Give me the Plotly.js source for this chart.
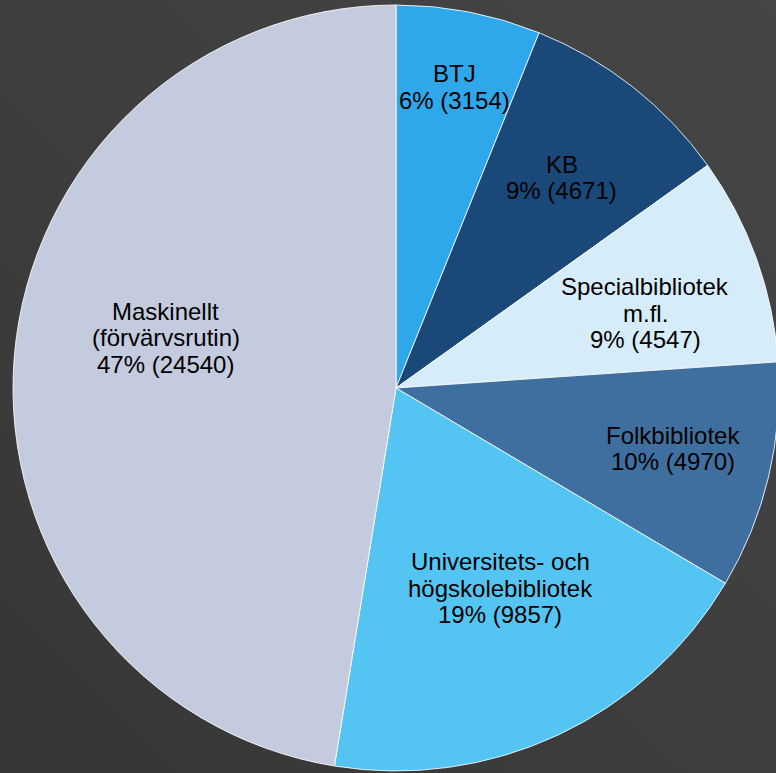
<!DOCTYPE html>
<html>
<head>
<meta charset="utf-8">
<script src="https://cdn.plot.ly/plotly-3.0.1.min.js"></script>
<style>
html,body{margin:0;padding:0;overflow:hidden;}
body{background:linear-gradient(to bottom left,#464646 0%,#3e3e3e 50%,#363636 100%);width:776px;height:773px;}
#chart{width:790px;height:773px;}
</style>
</head>
<body>
<div id="chart"></div>
<script>
const categories = ["BTJ", "KB", "Specialbibliotek m.fl.", "Folkbibliotek", "Universitets- och högskolebibliotek", "Maskinellt (förvärvsrutin)"];
const labelLines = [["BTJ"], ["KB"], ["Specialbibliotek", "m.fl."], ["Folkbibliotek"], ["Universitets- och", "högskolebibliotek"], ["Maskinellt", "(förvärvsrutin)"]];
const values = [3154, 4671, 4547, 4970, 9857, 24540];

// style
const colors = ["#2EA8EA", "#194879", "#D6ECF9", "#3F6F9F", "#54C5F3", "#C4CBDF"];
const labelRadius = [0.80, 0.70, 0.68, 0.74, 0.59, 0.615];
const labelAngleShift = [0, 0, 3, -1, -2.5, 7.7];

const W = 790, H = 773, cx = 396, cy = 388, r = 383;
const FONT = "Liberation Sans, Arial, sans-serif";
const LINE = 26.5;

const trace = {
  type: "pie",
  labels: categories,
  values: values,
  textinfo: "none",
  sort: false,
  direction: "clockwise",
  rotation: 0,
  marker: {colors: colors, line: {color: "rgba(255,255,255,0.85)", width: 1}},
  hoverinfo: "label+value+percent",
  domain: {x: [(cx - r) / W, (cx + r) / W], y: [(H - cy - r) / H, (H - cy + r) / H]}
};

// labels placed at each slice's mid-angle, computed from the values
const total = values.reduce((a, b) => a + b, 0);
const annotations = [];
let cum = 0;
values.forEach((v, i) => {
  const mid = (cum + v / 2) / total * 360 + labelAngleShift[i];
  cum += v;
  const rad = mid * Math.PI / 180;
  const d = labelRadius[i] * r;
  const px = cx + d * Math.sin(rad);
  const py = cy - d * Math.cos(rad);
  const lines = labelLines[i].concat([Math.round(v / total * 100) + "% (" + v + ")"]);
  const n = lines.length;
  lines.forEach((t, k) => {
    annotations.push({
      text: t, xref: "paper", yref: "paper",
      x: px / W, y: 1 - py / H,
      xanchor: "center", yanchor: "middle",
      yshift: ((n - 1) / 2 - k) * LINE,
      showarrow: false,
      font: {family: FONT, size: 24, color: "#000000"}
    });
  });
});

const layout = {
  width: W, height: H,
  margin: {l: 0, r: 0, t: 0, b: 0},
  paper_bgcolor: "rgba(0,0,0,0)",
  plot_bgcolor: "rgba(0,0,0,0)",
  showlegend: false,
  annotations: annotations
};
Plotly.newPlot("chart", [trace], layout, {displayModeBar: false, staticPlot: true});
</script>
</body>
</html>
